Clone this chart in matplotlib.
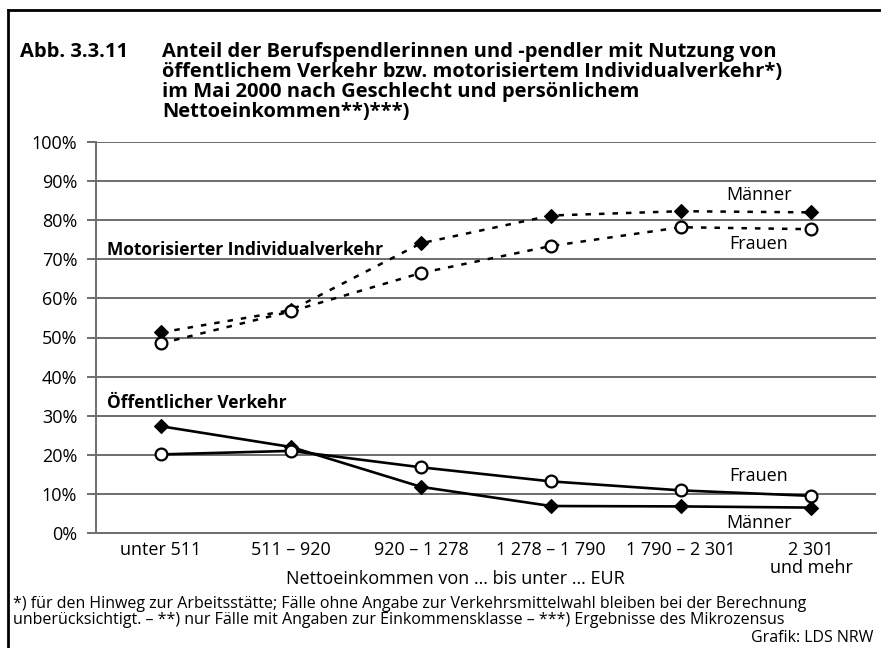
import matplotlib
import matplotlib.pyplot as plt
from matplotlib.lines import Line2D

matplotlib.use('Agg')
plt.rcParams['font.family'] = ['Open Sans', 'DejaVu Sans']

# Data (percent)
categories = ["unter 511", "511 – 920", "920 – 1 278", "1 278 – 1 790",
              "1 790 – 2 301", "2 301\nund mehr"]
miv_maenner = [51.3, 57.0, 74.1, 81.2, 82.3, 82.0]
miv_frauen = [48.5, 56.7, 66.5, 73.4, 78.2, 77.7]
oev_maenner = [27.3, 22.0, 11.8, 6.9, 6.8, 6.5]
oev_frauen = [20.1, 21.0, 16.8, 13.2, 10.9, 9.5]

W, H = 881, 648


def px(x, y):
    """ pixel position (from top left) -> figure fraction """
    return x / W, 1 - y / H


fig = plt.figure(figsize=(W / 100, H / 100), dpi=100)
ax = fig.add_axes([96 / W, 1 - 533 / H, 780 / W, 391 / H])

x = list(range(len(categories)))
grid_col = '#6e6e6e'

# dashed: motorisierter Individualverkehr
ax.plot(x, miv_maenner, color='black', lw=1.8, dashes=(2.2, 3.2),
        marker='D', ms=6.8, mfc='black', mec='black', mew=0.8, zorder=3)
ax.plot(x, miv_frauen, color='black', lw=1.8, dashes=(2.2, 3.2),
        marker='o', ms=8.5, mfc='white', mec='black', mew=1.6, zorder=4)
# solid: oeffentlicher Verkehr
ax.plot(x, oev_maenner, color='black', lw=1.9,
        marker='D', ms=6.8, mfc='black', mec='black', mew=0.8, zorder=3)
ax.plot(x, oev_frauen, color='black', lw=1.9,
        marker='o', ms=8.5, mfc='white', mec='black', mew=1.6, zorder=4)

ax.set_xlim(-0.5, len(categories) - 0.5)
ax.set_ylim(0, 100)
ax.set_yticks(range(0, 101, 10))
ax.set_yticklabels(["{:d}%".format(v) for v in range(0, 101, 10)], fontsize=13)
ax.set_xticks(x)
ax.set_xticklabels(categories, fontsize=13, linespacing=0.95)
ax.tick_params(axis='x', length=0, pad=6)
ax.tick_params(axis='y', length=6.5, width=1.4, color=grid_col, pad=7)
ax.yaxis.grid(True, color=grid_col, lw=1.4)
ax.set_axisbelow(True)
for side in ['top', 'right']:
    ax.spines[side].set_visible(False)
for side in ['left', 'bottom']:
    ax.spines[side].set_color(grid_col)
    ax.spines[side].set_linewidth(1.4)
fig.text(*px(455, 579), "Nettoeinkommen von … bis unter … EUR", fontsize=13,
         ha='center', va='center')

# series labels
ax.text(0.014, 72.5, "Motorisierter Individualverkehr", fontsize=12.5,
        fontweight='bold', va='center', ha='left',
        transform=ax.get_yaxis_transform())
ax.text(0.014, 33.2, "Öffentlicher Verkehr", fontsize=12.5,
        fontweight='bold', va='center', ha='left',
        transform=ax.get_yaxis_transform())
ax.text(4.6, 86.5, "Männer", fontsize=13, ha='center', va='center')
ax.text(4.6, 73.8, "Frauen", fontsize=13, ha='center', va='center')
ax.text(4.6, 14.7, "Frauen", fontsize=13, ha='center', va='center')
ax.text(4.6, 2.5, "Männer", fontsize=13, ha='center', va='center')

# title
fig.text(*px(20, 42), "Abb. 3.3.11", fontsize=14.5, fontweight='bold', va='top')
fig.text(*px(162, 42),
         "Anteil der Berufspendlerinnen und -pendler mit Nutzung von\n"
         "öffentlichem Verkehr bzw. motorisiertem Individualverkehr*)\n"
         "im Mai 2000 nach Geschlecht und persönlichem\n"
         "Nettoeinkommen**)***)",
         fontsize=14.5, fontweight='bold', va='top', linespacing=1.0)

# footnotes
fig.text(*px(13, 596),
         "*) für den Hinweg zur Arbeitsstätte; Fälle ohne Angabe zur Verkehrsmittelwahl "
         "bleiben bei der Berechnung\n"
         "unberücksichtigt. – **) nur Fälle mit Angaben zur Einkommensklasse – "
         "***) Ergebnisse des Mikrozensus",
         fontsize=11.5, va='top', linespacing=1.0)
fig.text(*px(873, 638), "Grafik: LDS NRW", fontsize=11.5, ha='right', va='center')

# frame
fig.add_artist(Line2D([8 / W, 1], [1 - 10 / H, 1 - 10 / H], color='black', lw=2,
                      transform=fig.transFigure))
fig.add_artist(Line2D([8 / W, 8 / W], [0, 1 - 10 / H], color='black', lw=2,
                      transform=fig.transFigure))

fig.savefig("out.png", dpi=100)
